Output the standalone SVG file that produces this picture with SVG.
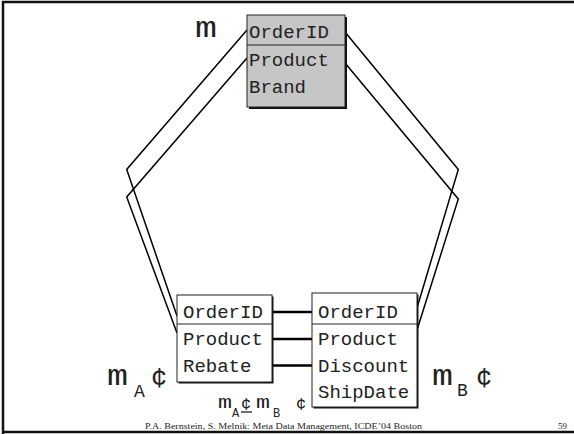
<svg xmlns="http://www.w3.org/2000/svg" width="574" height="434" viewBox="0 0 574 434">
<defs>
<style>
.frame{fill:none;stroke:#111;stroke-width:2.5}
.box{stroke:#222;stroke-width:1}
.shadow{fill:#111}
.div{stroke:#222;stroke-width:1}
.t{font-family:"Liberation Mono","DejaVu Sans Mono",monospace;font-size:19px;fill:#222}
.lbl{font-family:"Liberation Mono","DejaVu Sans Mono",monospace;fill:#222}
.wire{fill:none;stroke:#000;stroke-width:1.5;stroke-linejoin:miter}
.map{stroke:#000;stroke-width:2.3}
.tick{stroke:#000;stroke-width:1.3}
.foot{font-family:"Liberation Serif","Times New Roman",serif;font-size:9px;fill:#222}
</style>
</defs>
<rect width="574" height="434" fill="#fff"/>
<path class="frame" d="M3,434 V2 H574 M2,432 H574"/>

<g id="connectors">
<polyline class="wire" points="247,30 126.7,169.5 177,316"/>
<polyline class="wire" points="247,58 126.7,197 177,333"/>
<polyline class="wire" points="345,32 458.3,169.5 417,308"/>
<polyline class="wire" points="345,63 458.3,199 417,330"/>
<line class="map" x1="265" y1="312" x2="313" y2="312"/>
<line class="map" x1="265" y1="339" x2="313" y2="339"/>
<line class="map" x1="262" y1="365.5" x2="313" y2="365.5"/>
<line class="tick" x1="313" y1="308.5" x2="313" y2="315.5"/>
<line class="tick" x1="313" y1="335.5" x2="313" y2="342.5"/>
<line class="tick" x1="313" y1="362" x2="313" y2="369"/>
<line class="tick" x1="263" y1="362" x2="263" y2="369"/>
</g>

<g id="node-m">
<rect class="shadow" x="249" y="17" width="98" height="92"/>
<rect class="box" x="247" y="15" width="98" height="92" fill="#c6c6c6"/>
<line class="div" x1="247" y1="45" x2="345" y2="45"/>
<text class="t" x="249" y="38">OrderID</text>
<text class="t" x="249" y="66">Product</text>
<text class="t" x="249" y="93">Brand</text>
</g>

<g id="node-mA">
<rect class="shadow" x="178.5" y="296.5" width="95" height="87"/>
<rect class="box" x="177" y="295" width="95" height="87" fill="#fff"/>
<line class="div" x1="177" y1="324" x2="272" y2="324"/>
<text class="t" x="183" y="318">OrderID</text>
<text class="t" x="183" y="345">Product</text>
<text class="t" x="183" y="372">Rebate</text>
</g>

<g id="node-mB">
<rect class="shadow" x="313.5" y="294.5" width="105" height="114"/>
<rect class="box" x="312" y="293" width="105" height="114" fill="#fff"/>
<line class="div" x1="312" y1="324" x2="417" y2="324"/>
<text class="t" x="318" y="318">OrderID</text>
<text class="t" x="318" y="345">Product</text>
<text class="t" x="318" y="372">Discount</text>
<text class="t" x="318" y="398">ShipDate</text>
</g>

<g id="labels">
<text class="lbl" x="195" y="37" font-size="30" textLength="22" lengthAdjust="spacingAndGlyphs">m</text>
<text class="lbl" x="107" y="385" font-size="30" textLength="21" lengthAdjust="spacingAndGlyphs">m</text>
<text class="lbl" x="134" y="397" font-size="18">A</text>
<text class="lbl" x="151" y="386" font-size="27">¢</text>
<text class="lbl" x="432" y="385" font-size="30" textLength="21" lengthAdjust="spacingAndGlyphs">m</text>
<text class="lbl" x="457" y="396" font-size="18">B</text>
<text class="lbl" x="476" y="386" font-size="27">¢</text>
<text class="lbl" x="218" y="408" font-size="19" textLength="14" lengthAdjust="spacingAndGlyphs">m</text>
<text class="lbl" x="232" y="417" font-size="12">A</text>
<text class="lbl" x="241" y="409" font-size="17">¢</text>
<line x1="241" y1="412" x2="252" y2="412" stroke="#111" stroke-width="1.2"/>
<text class="lbl" x="256" y="408" font-size="19" textLength="14" lengthAdjust="spacingAndGlyphs">m</text>
<text class="lbl" x="273" y="417" font-size="12">B</text>
<text class="lbl" x="296" y="409" font-size="17">¢</text>
</g>

<text class="foot" x="145" y="429" textLength="277" lengthAdjust="spacingAndGlyphs">P.A. Bernstein, S. Melnik: Meta Data Management, ICDE’04 Boston</text>
<text class="foot" x="558" y="429">59</text>
</svg>
